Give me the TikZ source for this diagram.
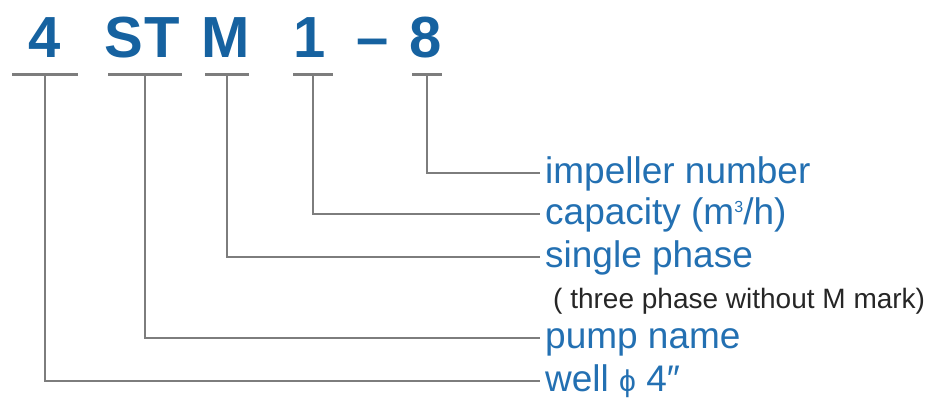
\documentclass[tikz,border=0pt]{standalone}
\usepackage{fontspec}
\setmainfont{Liberation Sans}
\definecolor{codeblue}{RGB}{22,98,160}
\definecolor{descblue}{RGB}{35,112,178}
\definecolor{linegray}{RGB}{125,125,125}
\begin{document}
\begin{tikzpicture}[x=1pt, y=-1pt,
    code/.style={font=\fontsize{58}{58}\selectfont\bfseries, text=codeblue, inner sep=0pt, anchor=base},
    desc/.style={font=\fontsize{37}{37}\selectfont, text=descblue, inner sep=0pt, anchor=base west},
    note/.style={font=\fontsize{28}{28}\selectfont, text=black!85, inner sep=0pt, anchor=base west},
    bar/.style={draw=linegray, line width=3pt},
    leader/.style={draw=linegray, line width=2.6pt}]

    \useasboundingbox (0,0) rectangle (946,404);

    % Model code
    \node[code] (c4) at (45,58) {4};
    \node[code] (cS) at (124,58) {S};
    \node[code] (cT) at (162,58) {T};
    \node[code] (cM) at (226,58) {M};
    \node[code] (c1) at (310,58) {1};
    \node[code] (cdash) at (373,58) {\textendash};
    \node[code] (c8) at (426,58) {8};

    % Bars under the code
    \coordinate (b4) at (45,75);
    \coordinate (bST) at (145,75);
    \coordinate (bM) at (227,75);
    \coordinate (b1) at (313,75);
    \coordinate (b8) at (427,75);
    \draw[bar] ([xshift=-33pt]b4) -- ([xshift=33pt]b4);
    \draw[bar] ([xshift=-37pt]bST) -- ([xshift=37pt]bST);
    \draw[bar] ([xshift=-22pt]bM) -- ([xshift=22pt]bM);
    \draw[bar] ([xshift=-20pt]b1) -- ([xshift=20pt]b1);
    \draw[bar] ([xshift=-15pt]b8) -- ([xshift=15pt]b8);

    % Line ends
    \coordinate (e8) at (540,173);
    \coordinate (e1) at (540,214);
    \coordinate (eM) at (540,257);
    \coordinate (eST) at (540,338);
    \coordinate (e4) at (540,381);

    % Descriptions
    \node[desc] (d8) at ([xshift=5pt,yshift=-10pt]e8) {impeller number};
    \node[desc] (d1) at ([xshift=5pt,yshift=-10pt]e1) {capacity (m\raisebox{12pt}{\fontsize{16}{16}\selectfont 3}/h)};
    \node[desc] (dM) at ([xshift=5pt,yshift=-10pt]eM) {single phase};
    \node[note] (nM) at (553,308) {( three phase without M mark)};
    \node[desc] (dST) at ([xshift=5pt,yshift=-10pt]eST) {pump name};
    \node[desc] (d4) at ([xshift=5pt,yshift=-10pt]e4) {well {\fontsize{30}{30}\selectfont\char"03D5} 4″};

    % Leaders
    \draw[leader] (b8) |- (e8);
    \draw[leader] (b1) |- (e1);
    \draw[leader] (bM) |- (eM);
    \draw[leader] (bST) |- (eST);
    \draw[leader] (b4) |- (e4);
\end{tikzpicture}
\end{document}
